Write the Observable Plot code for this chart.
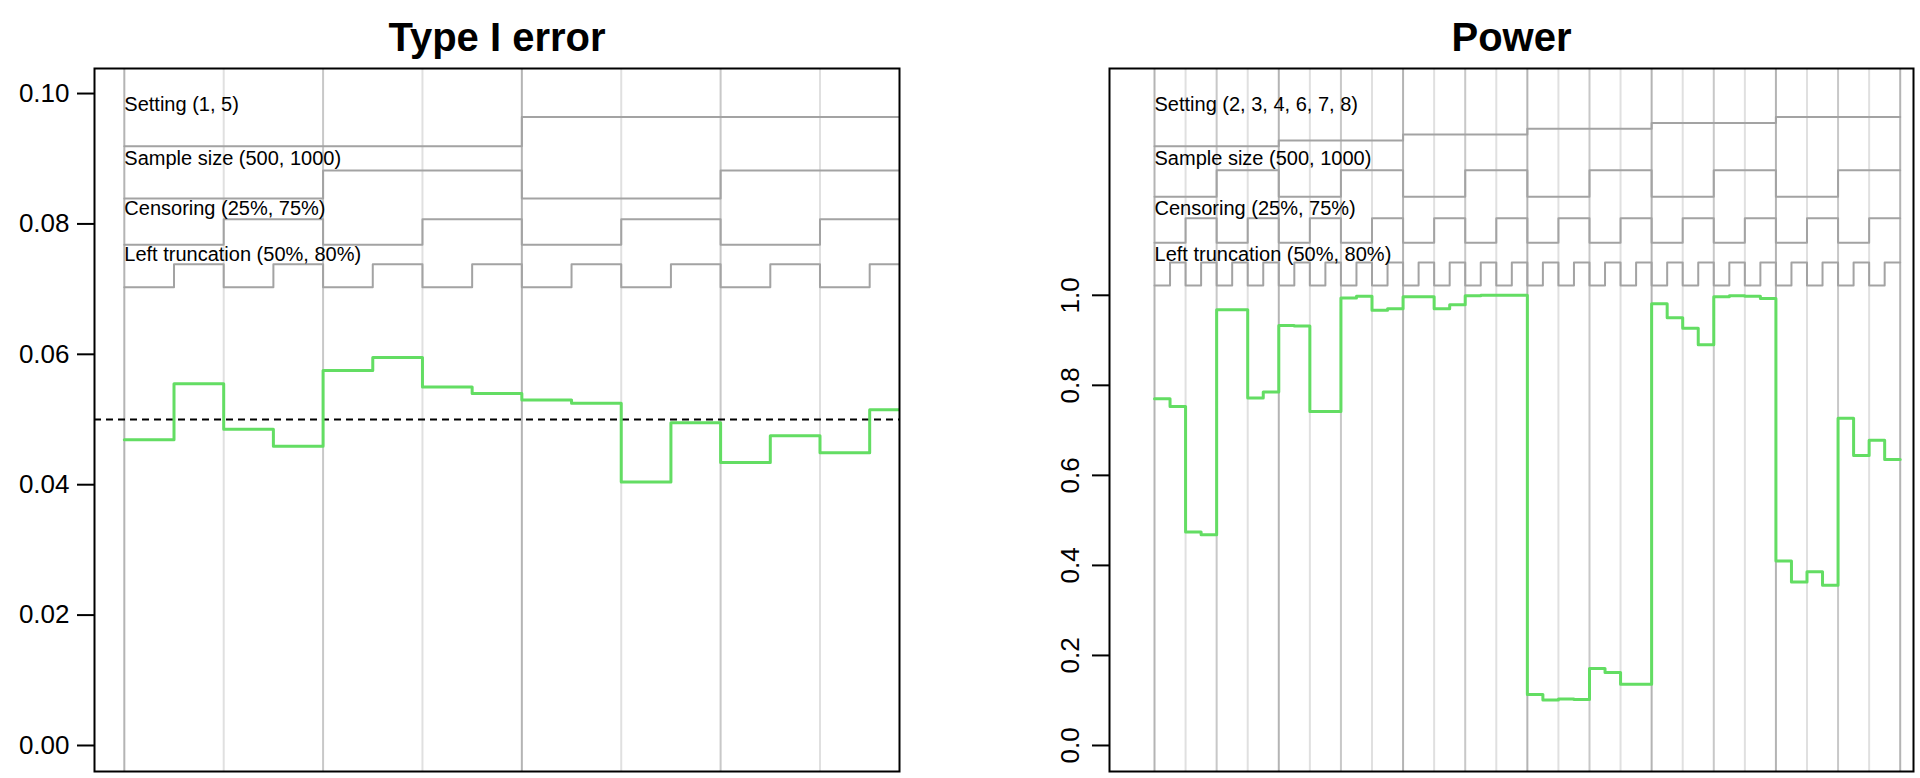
<!DOCTYPE html>
<html>
<head>
<meta charset="utf-8">
<script src="https://cdn.jsdelivr.net/npm/d3@7"></script>
<script src="https://cdn.jsdelivr.net/npm/@observablehq/plot@0.6"></script>
<style>
  html, body { margin: 0; padding: 0; background: #fff; }
  #wrap { position: relative; width: 1920px; height: 778px; overflow: hidden; background: #fff; }
  #wrap svg { position: absolute; top: 0; }
</style>
</head>
<body>
<div id="wrap"></div>
<script>
// ---- design factors ----
const type1Settings = ["1", "5"];
const powerSettings = ["2", "3", "4", "6", "7", "8"];
const sampleSizes = [500, 1000];
const censoring = ["25%", "75%"];
const truncation = ["50%", "80%"];

// ---- series values (one per scenario, nested order: setting > sample size > censoring > truncation) ----
const type1Values = [0.0469, 0.0555, 0.0485, 0.0459, 0.0575, 0.0595, 0.0550, 0.0540,
                     0.0530, 0.0525, 0.0404, 0.0495, 0.0434, 0.0475, 0.0449, 0.0515];
const powerValues = [0.770, 0.753, 0.474, 0.468, 0.968, 0.968, 0.772, 0.785,
                     0.933, 0.932, 0.742, 0.742, 0.994, 0.998, 0.967, 0.970,
                     0.997, 0.997, 0.970, 0.979, 0.999, 1.000, 1.000, 1.000,
                     0.113, 0.101, 0.103, 0.102, 0.171, 0.162, 0.136, 0.136,
                     0.981, 0.950, 0.927, 0.890, 0.997, 0.999, 0.998, 0.993,
                     0.410, 0.363, 0.386, 0.356, 0.727, 0.644, 0.678, 0.635];
const nominalLevel = 0.05;

// ---- reference (nested-loop legend) levels ----
const type1SettingRef = [0.0919, 0.0964];
const type1SampleRef = [0.0839, 0.0882];
const type1CensRef = [0.0768, 0.0807];
const type1TruncRef = [0.0703, 0.0738];
const type1LabelY = [0.0983, 0.0900, 0.0824, 0.0753];

const powerSettingRef = [1.331, 1.344, 1.357, 1.370, 1.383, 1.396];
const powerSampleRef = [1.219, 1.278];
const powerCensRef = [1.117, 1.171];
const powerTruncRef = [1.022, 1.073];
const powerLabelY = [1.424, 1.304, 1.193, 1.091];

// ---- axis ticks ----
const type1Ticks = [0, 0.02, 0.04, 0.06, 0.08, 0.10];
const powerTicks = [0, 0.2, 0.4, 0.6, 0.8, 1.0];

function design(settings) {
  const rows = [];
  settings.forEach((s, si) =>
    sampleSizes.forEach((n, ni) =>
      censoring.forEach((c, ci) =>
        truncation.forEach((t, ti) => rows.push({si, ni, ci, ti})))));
  return rows;
}
function stepData(vals) {
  const pts = vals.map((v, i) => ({x: i + 1, y: v}));
  pts.push({x: vals.length + 1, y: vals[vals.length - 1]});
  return pts;
}

function panel(o) {
  const rows = design(o.settings);
  const n = rows.length;
  const vlines = [];
  rows.forEach((r, i) => {
    if (i % 2 === 0) vlines.push({x: i + 1, level: i % 8 === 0 ? 0 : i % 4 === 0 ? 1 : 2});
  });
  vlines.push({x: n + 1, level: 0});
  const vColors = ["#b4b4b4", "#c8c8c8", "#e0e0e0"];
  const decos = [
    rows.map(r => o.refSetting[r.si]),
    rows.map(r => o.refSample[r.ni]),
    rows.map(r => o.refCens[r.ci]),
    rows.map(r => o.refTrunc[r.ti])
  ];
  const labels = [
    `Setting (${o.settings.join(", ")})`,
    `Sample size (${sampleSizes.join(", ")})`,
    `Censoring (${censoring.join(", ")})`,
    `Left truncation (${truncation.join(", ")})`
  ];
  const marks = [];
  [2, 1, 0].forEach(lv => marks.push(Plot.ruleX(vlines.filter(d => d.level === lv), {
    x: "x", stroke: vColors[lv], strokeWidth: 2, clip: true
  })));
  decos.forEach(d => marks.push(Plot.line(stepData(d), {
    x: "x", y: "y", curve: "step-after", stroke: "#a3a3a3", strokeWidth: 2, clip: true
  })));
  marks.push(Plot.text(labels, {
    x: () => 1, y: (d, i) => o.labelY[i], text: d => d,
    textAnchor: "start", fontSize: 20, fill: "black"
  }));
  if (o.refLine != null) marks.push(Plot.ruleY([o.refLine], {
    stroke: "black", strokeWidth: 2, strokeDasharray: "7,5"
  }));
  marks.push(Plot.line(stepData(o.values), {
    x: "x", y: "y", curve: "step-after", stroke: "#63dd63", strokeWidth: 3, clip: true
  }));
  marks.push(Plot.frame({stroke: "black", strokeWidth: 2}));
  marks.push(Plot.axisY(o.ticks, {
    label: null,
    tickFormat: d3.format(o.fmt), tickSize: 17, tickPadding: o.tickPadding,
    tickRotate: o.rotate, fontSize: o.tickFont, strokeWidth: 2, stroke: "black", fill: "black"
  }));
  marks.push(Plot.text([o.title], {
    frameAnchor: "top", dy: -46, fontSize: 40, fontWeight: "bold", fill: "black"
  }));
  const svg = Plot.plot({
    width: 960, height: 778,
    marginLeft: o.marginLeft, marginRight: o.marginRight, marginTop: 68, marginBottom: 7,
    x: {domain: o.xDomain, axis: null},
    y: {domain: o.yDomain, axis: null, label: null},
    style: {fontFamily: "'Liberation Sans', Arial, sans-serif", background: "white", overflow: "visible", color: "black"},
    marks
  });
  svg.style.left = o.left + "px";
  return svg;
}

const wrap = document.getElementById("wrap");
wrap.appendChild(panel({
  title: "Type I error", values: type1Values, settings: type1Settings,
  refSetting: type1SettingRef, refSample: type1SampleRef, refCens: type1CensRef, refTrunc: type1TruncRef,
  labelY: type1LabelY, refLine: nominalLevel,
  ticks: type1Ticks, fmt: ".2f", rotate: 0, tickFont: 26, tickPadding: 8,
  xDomain: [0.4, 16.6], yDomain: [-0.00399, 0.10384],
  marginLeft: 94, marginRight: 61, left: 0
}));
wrap.appendChild(panel({
  title: "Power", values: powerValues, settings: powerSettings,
  refSetting: powerSettingRef, refSample: powerSampleRef, refCens: powerCensRef, refTrunc: powerTruncRef,
  labelY: powerLabelY, refLine: null,
  ticks: powerTicks, fmt: ".1f", rotate: -90, tickFont: 26, tickPadding: 14,
  xDomain: [-1.897, 49.856], yDomain: [-0.0578, 1.5038],
  marginLeft: 149, marginRight: 7, left: 960
}));
</script>
</body>
</html>
